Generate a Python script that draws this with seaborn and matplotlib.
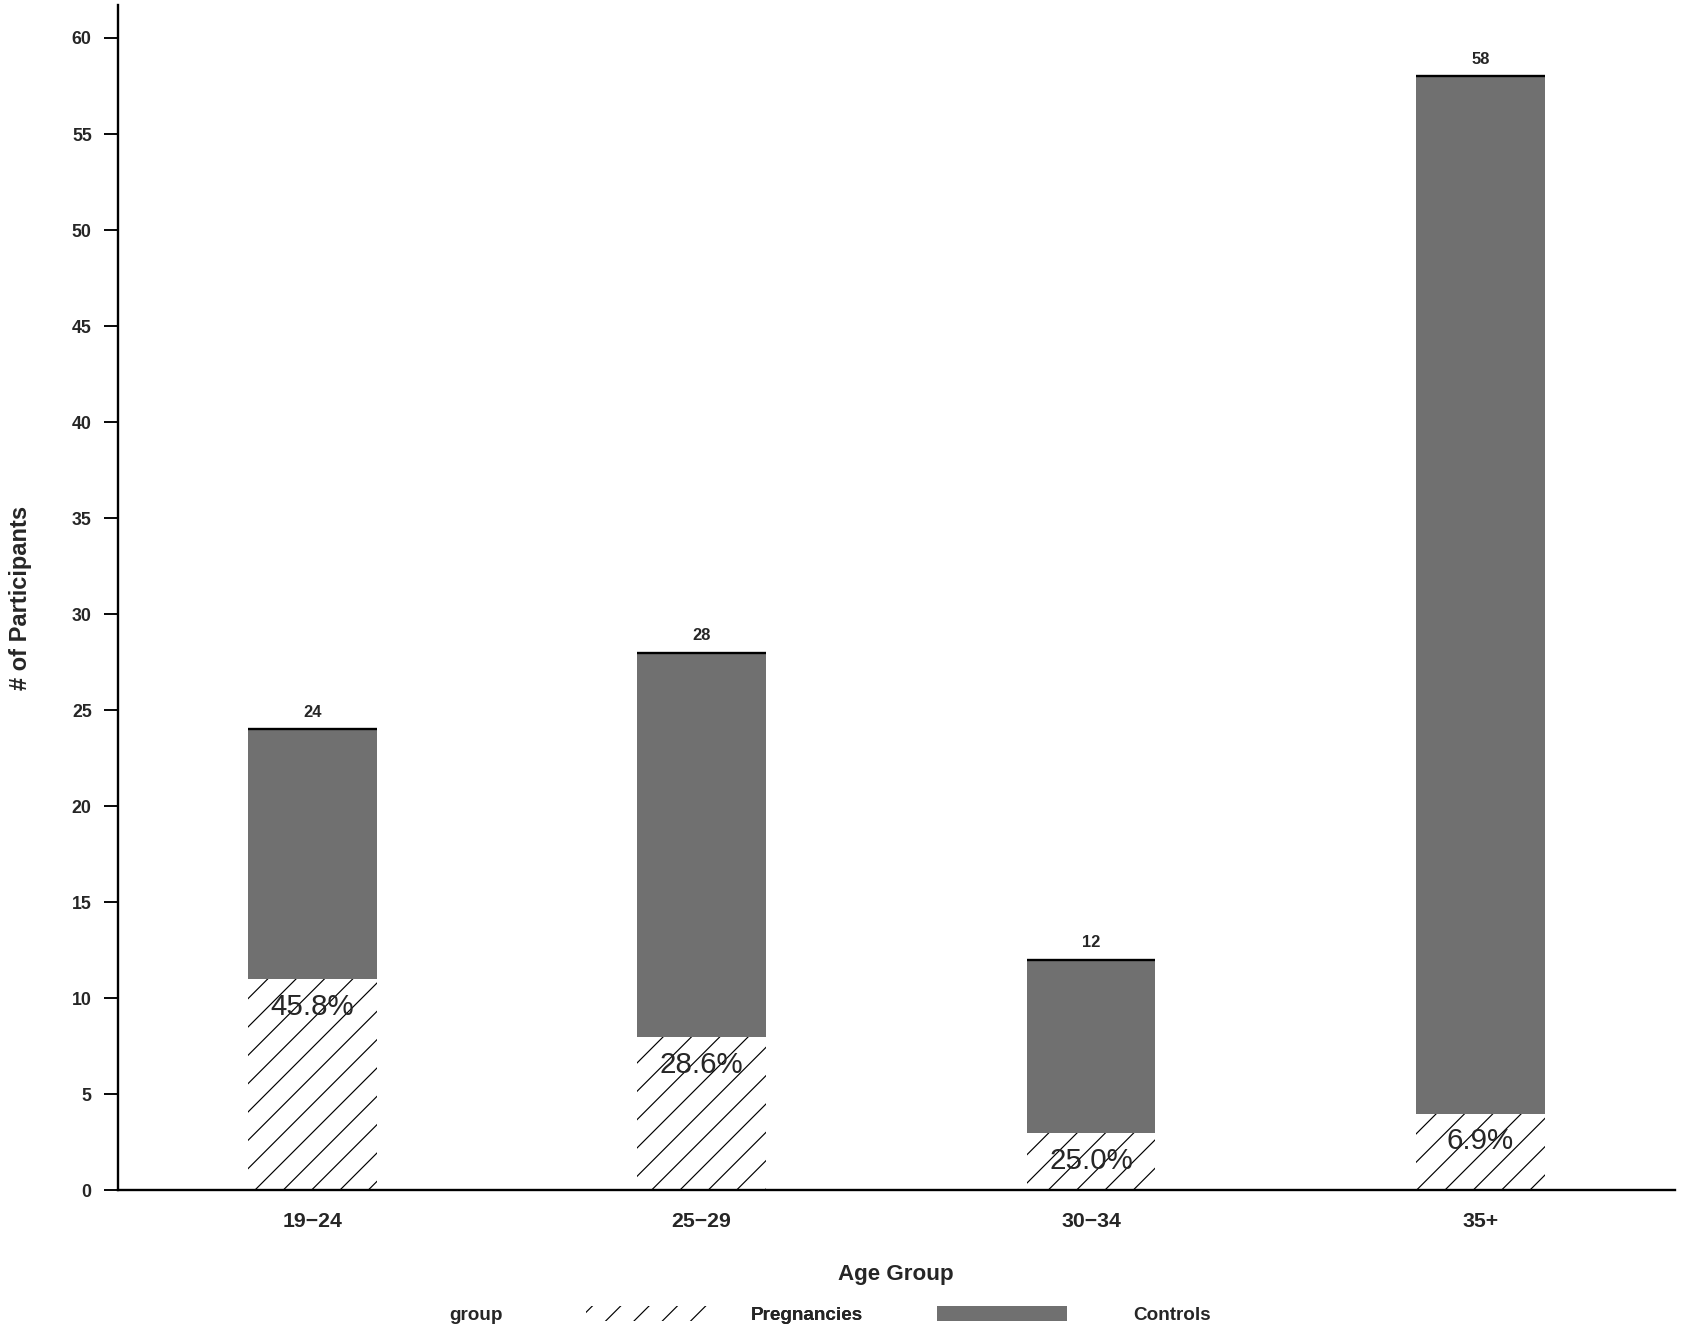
import numpy as np
import pandas as pd
import seaborn as sns
import matplotlib.pyplot as plt
from matplotlib.patches import Patch

sns.set_theme(style='white')
plt.rcParams['font.family'] = ['Liberation Sans', 'DejaVu Sans']
plt.rcParams['hatch.linewidth'] = 0.5

# data
age_groups = ['19\u221224', '25\u221229', '30\u221234', '35+']
pregnancies = [11, 8, 3, 4]
controls = [13, 20, 9, 54]

df = pd.DataFrame({'age': age_groups, 'preg': pregnancies, 'ctrl': controls})
df['total'] = df['preg'] + df['ctrl']

gray = '#707070'
dpi = 170
fig = plt.figure(figsize=(1681 / dpi, 1333 / dpi), dpi=dpi)
ax = fig.add_axes([0.070, 0.107, 0.9264, 0.889])

# full stack (controls on top), then pregnancies drawn over the bottom part
sns.barplot(data=df, x='age', y='total', color=gray, saturation=1,
            width=0.33, linewidth=0, ax=ax)
n = len(ax.patches)
sns.barplot(data=df, x='age', y='preg', color='white', saturation=1,
            width=0.33, edgecolor='black', linewidth=0, hatch='//', ax=ax)

# dark line on top of each bar
for p in ax.patches[:n]:
    ax.plot([p.get_x(), p.get_x() + p.get_width()], [p.get_height()] * 2,
            color='black', lw=1, solid_capstyle='butt')

for i, row in df.iterrows():
    ax.text(i, row['total'] + 0.9, str(row['total']), ha='center', va='center',
            fontsize=7, fontweight='bold')
    ax.text(i, row['preg'] - 1.45, f"{100 * row['preg'] / row['total']:.1f}%",
            ha='center', va='center', fontsize=12.5)

ax.set_xlim(-0.5, 3.5)
ax.set_ylim(0, 61.7)
ax.set_yticks(np.arange(0, 61, 5))
sns.despine(ax=ax)
for s in ['left', 'bottom']:
    ax.spines[s].set_color('black')
    ax.spines[s].set_linewidth(1)

ax.tick_params(axis='y', left=True, length=6, width=0.8, pad=5,
               labelsize=7.5, direction='out', color='black')
ax.tick_params(axis='x', length=0, pad=9, labelsize=9)
for lbl in ax.get_yticklabels() + ax.get_xticklabels():
    lbl.set_fontweight('bold')

ax.set_xlabel('Age Group', fontsize=9.5, fontweight='bold', labelpad=14)
ax.set_ylabel('# of Participants', fontsize=10, fontweight='bold', labelpad=17)

# legend: one entry per box so the gaps can differ as in the original
leg_kw = dict(loc='center left', frameon=False, borderpad=0, borderaxespad=0,
              handlelength=6.9, handleheight=0.8,
              prop={'weight': 'bold', 'size': 8})
leg1 = fig.legend([Patch(facecolor='white', edgecolor='black', hatch='//',
                         linewidth=0)], ['Pregnancies'],
                  bbox_to_anchor=(586 / 1681, 1 - 1315 / 1333),
                  handletextpad=1.8, **leg_kw)
fig.add_artist(leg1)
fig.legend([Patch(facecolor=gray, linewidth=0)], ['Controls'],
           bbox_to_anchor=(937 / 1681, 1 - 1315 / 1333),
           handletextpad=3.5, **leg_kw)
fig.text(449 / 1681, 1 - 1316 / 1333, 'group', ha='left', va='center',
         fontsize=8, fontweight='bold')

fig.savefig('out.png', dpi=dpi)
